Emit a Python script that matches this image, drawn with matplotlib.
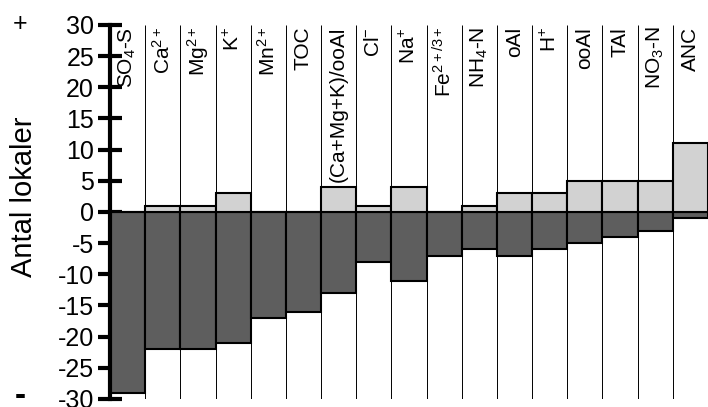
import numpy as np
import matplotlib
matplotlib.use("Agg")
import matplotlib.pyplot as plt

plt.rcParams['font.family'] = ['Liberation Sans', 'DejaVu Sans']
plt.rcParams['mathtext.fontset'] = 'custom'
plt.rcParams['mathtext.rm'] = 'Liberation Sans'
plt.rcParams['mathtext.it'] = 'Liberation Sans'
plt.rcParams['mathtext.default'] = 'regular'
plt.rcParams['axes.unicode_minus'] = False

# data
labels = [r'SO$_4$-S', r'Ca$^{2+}$', r'Mg$^{2+}$', r'K$^{+}$', r'Mn$^{2+}$', 'TOC',
          '(Ca+Mg+K)/ooAl', r'Cl$^{-}$', r'Na$^{+}$', r'Fe$^{2+/3+}$', r'NH$_4$-N',
          'oAl', r'H$^{+}$', 'ooAl', 'TAl', r'NO$_3$-N', 'ANC']
pos = [0, 1, 1, 3, 0, 0, 4, 1, 4, 0, 1, 3, 3, 5, 5, 5, 11]
neg = [-29, -22, -22, -21, -17, -16, -13, -8, -11, -7, -6, -7, -6, -5, -4, -3, -1]

n = len(labels)
x = np.arange(n)

fig = plt.figure(figsize=(7.08, 4.07), dpi=100)
ax = fig.add_axes([0.1554, 0.0197, 0.8446, 0.9189])

# column separators
ax.vlines(x[1:], -30, 30, color='black', lw=0.7, zorder=1)

ax.bar(x, neg, width=1, align='edge', color='#5e5e5e', edgecolor='black', lw=1.5, zorder=2)
ax.bar(x, pos, width=1, align='edge', color='#d2d2d2', edgecolor='black', lw=1.5, zorder=2)

for i, lab in enumerate(labels):
    ax.text(i + 0.5, 29.7, lab, rotation=90, ha='center', va='top', fontsize=15, zorder=3)

ax.set_xlim(0, n)
ax.set_ylim(-30, 30)
ax.set_yticks(np.arange(-30, 31, 5))
ax.set_xticks([])
ax.tick_params(axis='y', direction='inout', length=17, width=3, labelsize=18, pad=3)
for s in ['top', 'right', 'bottom']:
    ax.spines[s].set_visible(False)
ax.spines['left'].set_linewidth(3)

fig.text(24 / 708, 1 - 197 / 407, 'Antal lokaler', rotation=90, fontsize=21,
         ha='center', va='center')
fig.text(20 / 708, 1 - 24 / 407, '+', fontsize=18, ha='center', va='center')
fig.text(20 / 708, 1 - 397 / 407, '-', fontsize=24, ha='center', va='center', fontweight='bold')

fig.savefig('out.png', dpi=100)
